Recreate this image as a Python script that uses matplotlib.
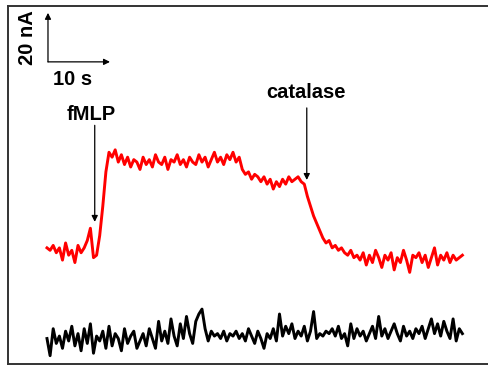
import numpy as np
import matplotlib
matplotlib.use("Agg")
import matplotlib.pyplot as plt

# sampling interval (s)
dt = 0.5

# red trace: current (nA) with fMLP then catalase
red_current = [
    47, 46, 48, 45, 47, 42, 49, 44, 46, 41,
    48, 45, 47, 50, 55, 43, 44, 52, 64, 78,
    86, 84, 87, 82, 85, 81, 84, 80, 83, 82,
    79, 84, 81, 83, 80, 85, 82, 81, 84, 79,
    83, 82, 85, 81, 83, 80, 84, 82, 81, 85,
    82, 84, 80, 83, 86, 82, 84, 81, 85, 83,
    86, 82, 84, 79, 77, 78, 75, 77, 76, 74,
    76, 73, 75, 71, 74, 72, 75, 73, 76, 74,
    75, 76, 74, 73, 68, 64, 60, 57, 54, 51,
    49, 50, 47, 48, 46, 47, 45, 44, 46, 43,
    44, 42, 45, 40, 44, 41, 46, 43, 39, 44,
    42, 45, 38, 43, 41, 46, 42, 37, 44, 43,
    45, 41, 44, 39, 43, 47, 40, 44, 42, 45,
    41, 44, 42, 43, 44,
]

# black trace: control current (nA)
black_current = [
    10, 3, 14, 8, 11, 6, 13, 9, 15, 7,
    12, 5, 14, 8, 16, 4, 11, 9, 13, 6,
    15, 7, 12, 10, 5, 14, 8, 11, 13, 6,
    9, 12, 7, 14, 10, 6, 17, 9, 13, 8,
    18, 11, 7, 16, 10, 19, 12, 8, 17, 20,
    22, 14, 9, 13, 11, 12, 10, 13, 9, 12,
    11, 13, 10, 12, 9, 14, 11, 8, 13, 10,
    6, 12, 10, 14, 9, 20, 11, 15, 12, 16,
    10, 13, 11, 15, 9, 13, 21, 10, 12, 11,
    13, 12, 14, 11, 15, 10, 12, 7, 16, 10,
    14, 11, 13, 9, 12, 15, 10, 19, 11, 14,
    10, 13, 16, 12, 9, 15, 11, 13, 10, 14,
    12, 15, 10, 14, 18, 12, 16, 11, 17, 13,
    10, 18, 9, 14, 12,
]

# annotations
fmlp_label = "fMLP"
fmlp_time = 7.7
catalase_label = "catalase"
catalase_time = 41.9
scale_time_label = "10 s"
scale_current_label = "20 nA"

t_red = np.arange(len(red_current)) * dt
t_black = np.arange(len(black_current)) * dt

plt.rcParams['font.family'] = ['Liberation Sans', 'DejaVu Sans']
fig = plt.figure(figsize=(4.88, 3.67), dpi=100)
ax = fig.add_axes([0.0174, 0.0095, 1.0, 0.9755])
ax.set_xlim(-6.21, 72.5)
ax.set_ylim(-0.2, 145.9)

ax.plot(t_red, red_current, color='#ff0000', lw=2.1, solid_joinstyle='round')
ax.plot(t_black, black_current, color='black', lw=2.1, solid_joinstyle='round')

for s in ['left', 'top', 'bottom']:
    ax.spines[s].set_color('#333333')
    ax.spines[s].set_linewidth(1.4)
ax.spines['right'].set_visible(False)
ax.set_xticks([])
ax.set_yticks([])

arrow = dict(arrowstyle='-|>', color='black', lw=0.9, mutation_scale=9,
             shrinkA=0, shrinkB=0)
fs = 14.5

# scale bar
x0, y0 = 0.16, 122.9
ax.annotate('', xy=(x0, y0 + 20), xytext=(x0, y0), arrowprops=arrow)
ax.annotate('', xy=(x0 + 10, y0), xytext=(x0, y0), arrowprops=arrow)
ax.text(-3.1, y0 + 10, scale_current_label, rotation=90, ha='center', va='center',
        fontsize=fs, fontweight='bold')
ax.text(x0 + 4.0, 115.5, scale_time_label, ha='center', va='center',
        fontsize=fs, fontweight='bold')

# fMLP
ax.text(fmlp_time - 0.5, 101.5, fmlp_label, ha='center', va='center',
        fontsize=fs, fontweight='bold')
ax.annotate('', xy=(fmlp_time, 57.6), xytext=(fmlp_time, 97.0), arrowprops=arrow)

# catalase
ax.text(catalase_time - 0.2, 110.6, catalase_label, ha='center', va='center',
        fontsize=fs, fontweight='bold')
ax.annotate('', xy=(catalase_time, 74.7), xytext=(catalase_time, 104.1), arrowprops=arrow)

fig.savefig('out.png', dpi=100)
